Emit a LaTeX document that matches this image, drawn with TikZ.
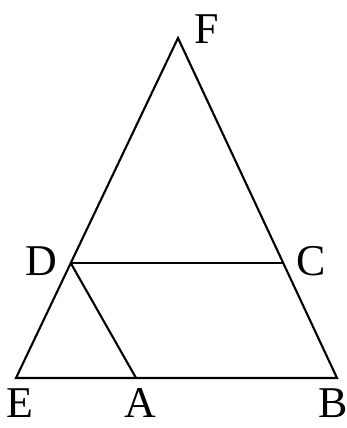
\documentclass[tikz,border=0pt]{standalone}
\usepackage{fontspec}
\setmainfont{Liberation Serif}
\usetikzlibrary{calc}

\begin{document}
\begin{tikzpicture}[
    edge/.style={line width=1.2pt, line join=miter},
    ptlabel/.style={font=\fontsize{25}{30}\selectfont, inner sep=0pt}
  ]
        \useasboundingbox (0,0) rectangle (6.94,8.56);
        % ==== POINTS ====
        \coordinate (F) at (3.56,7.80);
        \coordinate (E) at (0.32,1.00);
        \coordinate (B) at (6.74,1.00);
        \coordinate (D) at ($(E)!0.338!(F)$);
        \coordinate (C) at ($(B)!0.338!(F)$);
        \coordinate (A) at ($(E)!0.374!(B)$);
        % ==== TRIANGLE AND SEGMENTS ====
        \draw[edge] (E) -- (F) -- (B) -- cycle;
        \draw[edge] (D) -- (C);
        \draw[edge] (D) -- (A);
        % ==== LABELS ====
        \node[ptlabel] (lF) at (4.14,7.98) {F};
        \node[ptlabel] (lD) at (0.82,3.34) {D};
        \node[ptlabel] (lC) at (6.22,3.34) {C};
        \node[ptlabel] (lE) at (0.40,0.50) {E};
        \node[ptlabel] (lA) at (2.80,0.50) {A};
        \node[ptlabel] (lB) at (6.66,0.50) {B};
     \end{tikzpicture}
\end{document}
